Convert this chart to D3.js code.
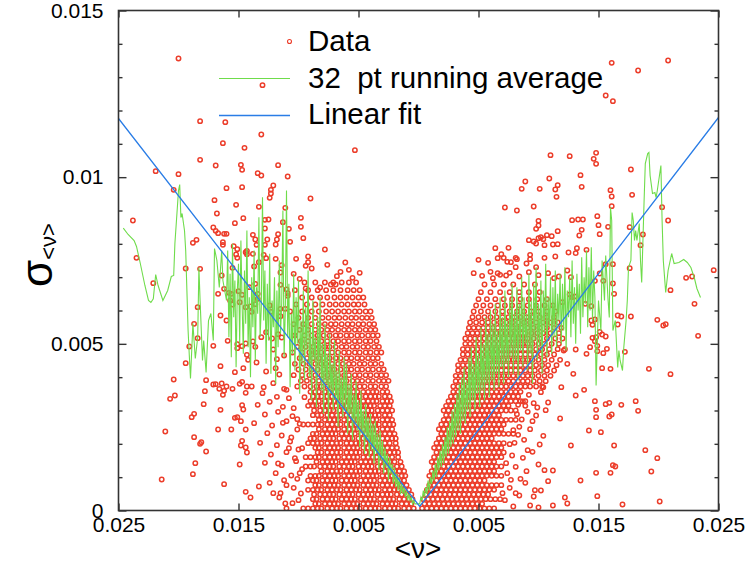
<!DOCTYPE html>
<html><head><meta charset="utf-8">
<script src="https://cdn.jsdelivr.net/npm/d3@7"></script>
<style>body{margin:0;background:#fff}</style>
</head><body>
<svg id="chart" width="746" height="569"></svg>
<script>
const xTickValues = [-0.025, -0.015, -0.005, 0.005, 0.015, 0.025];
const xTickLabels = ["0.025", "0.015", "0.005", "0.005", "0.015", "0.025"];
const yMajorTicks = [0, 0.005, 0.01, 0.015];
const yTickLabels = ["0", "0.005", "0.01", "0.015"];
const yMinorTicks = [0.001,0.002,0.003,0.004,0.006,0.007,0.008,0.009,0.011,0.012,0.013,0.014];
const legendLabels = ["Data", "32  pt running average", "Linear fit"];

// scatter: outer / sparse points (left branch)
const dataLeftSparse = [
[-.0200,.01356],[-.0182,.01168],[-.0161,.01165],[-.0163,.01102],[-.0145,.01088],[-.0219,.01018],[-.0200,.01009],[-.0182,.01052],[-.0169,.01035],[-.0148,.01037],[-.0147,.01022],[-.0204,.00962],[-.0160,.00967],[-.0147,.0097],[-.0170,.00931],[-.0152,.00917],[-.0168,.00891],[-.0238,.0087],[-.0146,.00877],[-.0153,.00862],[-.0171,.00849],[-.0169,.00839],[-.0167,.00832],[-.0162,.0083],[-.0160,.0083],[-.0185,.00812],[-.0188,.00803],[-.0163,.00805],[-.0163,.00797],[-.0154,.00793],[-.0151,.00784],[-.0144,.00775],[-.0235,.00758],[-.0152,.00768],[-.0151,.00758],[-.0194,.00726],[-.0182,.00725],[-.0155,.00728],[-.0221,.00682],[-.0164,.00705],[-.0162,.00665],[-.0167,.0065],[-.0158,.00653],[-.0156,.0065],[-.0150,.00658],[-.0147,.00647],[-.0184,.0061],[-.0157,.0063],[-.0155,.00618],[-.0149,.00625],[-.0144,.0061],[-.0165,.00585],[-.0160,.0057],[-.0187,.0056],[-.0184,.00517],[-.0191,.00492],[-.0171,.00494],[-.0159,.00509],[-.0151,.00487],[-.0194,.00442],[-.0165,.00433],[-.0153,.00415],[-.0146,.00427],[-.0204,.00393],[-.0177,.00391],[-.0169,.00379],[-.0164,.00381],[-.0149,.0038],[-.0147,.00386],[-.0178,.00358],[-.0162,.00359],[-.0163,.00347],[-.0144,.00353],[-.0203,.00345],[-.0207,.00335],[-.0179,.00319],[-.0147,.00316],[-.0146,.00303],[-.0165,.00302],[-.0187,.0029],[-.0189,.0028],[-.0151,.0028],[-.0153,.00278],[-.0148,.00268],[-.0211,.00237],[-.0167,.00243],[-.0156,.00243],[-.0144,.00243],[-.0187,.0022],[-.0181,.00205],[-.0182,.002],[-.0147,.00209],[-.0148,.00195],[-.0144,.00189],[-.0143,.00174],[-.0177,.00177],[-.0186,.00142],[-.0188,.00109],[-.0149,.00138],[-.0214,.00093],[-.0162,.00079],[-.0144,.00056],
[-.0130,.01276],[-.0131,.01128],[-.0053,.01081],[-.0117,.01036],[-.0134,.01012],[-.0131,.01005],[-.0109,.01002],[-.0121,.00975],[-.0123,.00962],[-.0123,.00951],[-.0124,.00938],[-.0090,.00936],[-.0133,.00911],[-.0111,.00908],[-.0125,.00873],[-.0098,.00878],
[-.0098,.00851],[-.0128,.00872],[-.0113,.00865],[-.0128,.00846],[-.0117,.00829],[-.0108,.00845],[-.0096,.00817],[-.0138,.00827],[-.0136,.00813],[-.0126,.00813],[-.0128,.00797],[-.0118,.00813],[-.0119,.00798],[-.0107,.00806],[-.0078,.00783],[-.0143,.00779],[-.0143,.00769],[-.0135,.00797],[-.0138,.0077],[-.0129,.00767],[-.0127,.00757],[-.0119,.00755],[-.0102,.00755],[-.0092,.00762],[-.0092,.00745],[-.0094,.00734],[-.0089,.00726],[-.0076,.00737],[-.0061,.00744],[-.0137,.00732],[-.0133,.00745],[-.0114,.00736],[-.0115,.00714],[-.0104,.0071],[-.0099,.00695],
[-.0141,.0067],[-.0136,.0068],[-.0115,.00677],[-.0110,.00663],[-.0109,.00652],[-.0109,.00644],[-.0094,.00666],[-.0082,.00669],[-.0073,.00678],[-.0069,.00678],[-.0068,.00703],[-.0134,.0065],[-.0134,.00635],[-.0136,.00619],[-.0139,.00596],[-.0140,.00612],[-.0124,.00615],[-.0123,.00596],[-.0115,.00605],[-.0111,.00605],[-.0115,.00583],[-.0065,.00716],[-.0058,.00722],[-.0049,.00713],[-.0055,.00698],
[-.0151,.00499],[-.0147,.00493],[-.0144,.00501],[-.0143,.00467],[-.0138,.00507],[-.0136,.00491],[-.0131,.0052],[-.0127,.00535],[-.0122,.00516],[-.0117,.00529],[-.0114,.00519],[-.0121,.00483],[-.0112,.00465],
[-.0142,.00452],[-.0135,.00444],[-.0127,.00417],[-.0119,.00427],[-.0118,.00454],[-.0116,.00408],
[-.0171,.00378],[-.0166,.00365],[-.0160,.00372],[-.0155,.00365],[-.0143,.00372],[-.0139,.00372],[-.0129,.0037],[-.0121,.00382],[-.0112,.00365],
[-.0130,.00352],[-.0118,.00341],[-.0110,.00362],[-.0134,.00317],[-.0124,.00326],[-.0113,.00311],[-.0128,.00288],[-.0117,.00296],[-.0105,.00283],[-.0137,.00262],[-.0122,.00255],[-.0110,.00268],[-.0126,.00232],[-.0114,.00225],[-.0132,.00203],[-.0118,.00196],[-.0107,.00207],[-.0123,.00168],[-.0110,.00175],[-.0128,.00143],[-.0114,.00136],[-.0119,.00112],[-.0106,.00105],[-.0124,.00083],[-.0110,.00076],[-.0115,.00052],[-.0105,.00022],
[-.0140,.00039],[-.0133,.00072],[-.0116,.00039],[-.0111,.00021],[-.0110,.00006],
[-.0100,.00031],[-.0104,.00068],[-.0099,.00112],[-.0103,.00157],[-.0100,.00183],[-.0106,.00219],[-.0101,.00274],[-.0104,.00307],[-.0108,.00337],[-.0097,.00124],[-.0101,.00243],[-.0112,.00091],[-.0117,.00141],[-.0121,.00052],[-.0113,.00263],[-.0108,.00187],
[-.0101,.00095],[-.0097,.00187],[-.0099,.0026],[-.0095,.0034],[-.0102,.00148],[-.0098,.00051]
];

// scatter: dense core of the left branch, read row by row (y, then x positions)
const leftCoreRows = [
[.00006,[-.0096,-.0092,-.0088,-.0084,-.0081,-.0076,-.0072,-.0068,-.0065,-.0060,-.0056,-.0052,-.0049,-.0044,-.0040,-.0036,-.0033,-.0028,-.0024,-.0020,-.0017,-.0012,-.0008,-.0004]],
[.0002,[-.0086,-.0083,-.0078,-.0074,-.0070,-.0067,-.0062,-.0058,-.0054,-.0051,-.0046,-.0042,-.0038,-.0035,-.0030,-.0026,-.0022,-.0019,-.0014,-.0010,-.0006]],
[.00034,[-.0088,-.0085,-.0080,-.0076,-.0072,-.0069,-.0064,-.0060,-.0056,-.0053,-.0048,-.0044,-.0040,-.0037,-.0032,-.0028,-.0024,-.0021,-.0016,-.0012,-.0008,-.0005]],
[.00048,[-.0087,-.0082,-.0078,-.0074,-.0071,-.0066,-.0062,-.0058,-.0055,-.0050,-.0046,-.0042,-.0039,-.0034,-.0030,-.0026,-.0023,-.0018,-.0014,-.0010,-.0006]],
[.00062,[-.0092,-.0088,-.0084,-.0081,-.0076,-.0072,-.0068,-.0065,-.0060,-.0056,-.0052,-.0049,-.0044,-.0040,-.0036,-.0033,-.0028,-.0024,-.0020,-.0017,-.0012,-.0008]],
[.00076,[-.0086,-.0083,-.0078,-.0074,-.0070,-.0067,-.0062,-.0058,-.0054,-.0051,-.0046,-.0042,-.0038,-.0035,-.0030,-.0026,-.0022,-.0019,-.0014,-.0010]],
[.0009,[-.0092,-.0088,-.0085,-.0080,-.0076,-.0072,-.0069,-.0064,-.0060,-.0056,-.0053,-.0048,-.0044,-.0040,-.0037,-.0032,-.0028,-.0024,-.0021,-.0016,-.0012]],
[.00104,[-.0090,-.0086,-.0083,-.0078,-.0074,-.0070,-.0067,-.0062,-.0058,-.0054,-.0051,-.0046,-.0042,-.0038,-.0035,-.0030,-.0026,-.0022,-.0019,-.0014,-.0011]],
[.00118,[-.0081,-.0076,-.0072,-.0068,-.0065,-.0060,-.0056,-.0052,-.0049,-.0044,-.0040,-.0036,-.0033,-.0028,-.0024,-.0020,-.0016,-.0012]],
[.00132,[-.0094,-.0090,-.0087,-.0082,-.0078,-.0074,-.0071,-.0066,-.0062,-.0058,-.0055,-.0050,-.0046,-.0042,-.0039,-.0034,-.0030,-.0026,-.0023,-.0018,-.0014]],
[.00146,[-.0085,-.0080,-.0076,-.0072,-.0069,-.0064,-.0060,-.0056,-.0053,-.0048,-.0044,-.0040,-.0037,-.0032,-.0028,-.0024,-.0020,-.0015]],
[.0016,[-.0094,-.0090,-.0086,-.0083,-.0078,-.0074,-.0070,-.0067,-.0062,-.0058,-.0054,-.0051,-.0046,-.0042,-.0038,-.0035,-.0030,-.0026,-.0022,-.0017]],
[.00174,[-.0084,-.0081,-.0076,-.0072,-.0068,-.0065,-.0060,-.0056,-.0052,-.0049,-.0044,-.0040,-.0036,-.0033,-.0028,-.0024,-.0020,-.0017]],
[.00188,[-.0086,-.0083,-.0078,-.0074,-.0070,-.0067,-.0062,-.0058,-.0054,-.0051,-.0046,-.0042,-.0038,-.0035,-.0030,-.0026,-.0022,-.0018]],
[.00202,[-.0092,-.0088,-.0084,-.0081,-.0076,-.0072,-.0068,-.0065,-.0060,-.0056,-.0052,-.0049,-.0044,-.0040,-.0036,-.0033,-.0028,-.0024,-.0019]],
[.00216,[-.0090,-.0087,-.0082,-.0078,-.0074,-.0071,-.0066,-.0062,-.0058,-.0055,-.0050,-.0046,-.0042,-.0039,-.0034,-.0030,-.0026,-.0022,-.0019]],
[.0023,[-.0088,-.0085,-.0080,-.0076,-.0072,-.0069,-.0064,-.0060,-.0056,-.0053,-.0048,-.0044,-.0040,-.0037,-.0032,-.0028,-.0024,-.0020]],
[.00244,[-.0083,-.0078,-.0074,-.0070,-.0067,-.0062,-.0058,-.0054,-.0051,-.0046,-.0042,-.0038,-.0035,-.0030,-.0026,-.0022]],
[.00258,[-.0096,-.0092,-.0088,-.0084,-.0081,-.0076,-.0072,-.0068,-.0065,-.0060,-.0056,-.0052,-.0049,-.0044,-.0040,-.0036,-.0033,-.0028,-.0024,-.0021]],
[.00272,[-.0083,-.0078,-.0074,-.0070,-.0067,-.0062,-.0058,-.0054,-.0051,-.0046,-.0042,-.0038,-.0035,-.0030,-.0026,-.0022]],
[.00286,[-.0088,-.0084,-.0081,-.0076,-.0072,-.0068,-.0065,-.0060,-.0056,-.0052,-.0049,-.0044,-.0040,-.0036,-.0033,-.0028,-.0024]],
[.003,[-.0087,-.0082,-.0078,-.0074,-.0071,-.0066,-.0062,-.0058,-.0055,-.0050,-.0046,-.0042,-.0039,-.0034,-.0030,-.0026,-.0022]],
[.00314,[-.0092,-.0088,-.0085,-.0080,-.0076,-.0072,-.0069,-.0064,-.0060,-.0056,-.0053,-.0048,-.0044,-.0040,-.0037,-.0032,-.0028,-.0024]],
[.00328,[-.0090,-.0086,-.0083,-.0078,-.0074,-.0070,-.0067,-.0062,-.0058,-.0054,-.0051,-.0046,-.0042,-.0038,-.0035,-.0030,-.0026,-.0023]],
[.00342,[-.0088,-.0084,-.0081,-.0076,-.0072,-.0068,-.0065,-.0060,-.0056,-.0052,-.0049,-.0044,-.0040,-.0036,-.0033,-.0028,-.0024]],
[.00356,[-.0090,-.0086,-.0083,-.0078,-.0074,-.0070,-.0067,-.0062,-.0058,-.0054,-.0051,-.0046,-.0042,-.0038,-.0035,-.0030,-.0026]],
[.00372,[-.0101,-.0095,-.0090,-.0085,-.0081,-.0076,-.0071,-.0067,-.0062,-.0058,-.0053,-.0049,-.0045,-.0040,-.0036,-.0031,-.0027]],
[.00389,[-.0098,-.0093,-.0088,-.0083,-.0078,-.0074,-.0069,-.0064,-.0060,-.0055,-.0051,-.0047,-.0042,-.0038,-.0033,-.0029,-.0025]],
[.00406,[-.0104,-.0097,-.0091,-.0086,-.0081,-.0076,-.0072,-.0067,-.0062,-.0058,-.0053,-.0049,-.0044,-.0040,-.0035,-.0031,-.0027]],
[.00423,[-.0100,-.0094,-.0089,-.0084,-.0079,-.0074,-.0070,-.0065,-.0060,-.0056,-.0051,-.0047,-.0042,-.0038,-.0033,-.0029]],
[.0044,[-.0103,-.0096,-.0091,-.0086,-.0081,-.0077,-.0072,-.0067,-.0063,-.0058,-.0054,-.0049,-.0045,-.0040,-.0036,-.0031]],
[.00457,[-.0099,-.0093,-.0088,-.0083,-.0079,-.0074,-.0069,-.0065,-.0060,-.0056,-.0051,-.0047,-.0042,-.0038,-.0034]],
[.00474,[-.0105,-.0097,-.0091,-.0086,-.0081,-.0076,-.0072,-.0067,-.0062,-.0058,-.0053,-.0049,-.0044,-.0040,-.0035,-.0031]],
[.00491,[-.0101,-.0094,-.0088,-.0083,-.0078,-.0074,-.0069,-.0064,-.0060,-.0055,-.0051,-.0046,-.0042,-.0037,-.0033]],
[.00508,[-.0098,-.0092,-.0086,-.0081,-.0076,-.0071,-.0067,-.0062,-.0058,-.0053,-.0049,-.0044,-.0040,-.0035]],
[.00525,[-.0103,-.0095,-.0089,-.0084,-.0079,-.0074,-.0069,-.0065,-.0060,-.0056,-.0051,-.0047,-.0042,-.0038,-.0034]],
[.00542,[-.0099,-.0092,-.0086,-.0081,-.0076,-.0072,-.0067,-.0062,-.0058,-.0053,-.0049,-.0044,-.0040,-.0036]],
[.00559,[-.0104,-.0096,-.0089,-.0083,-.0078,-.0073,-.0069,-.0064,-.0059,-.0055,-.0050,-.0046,-.0041,-.0037]],
[.00578,[-.0100,-.0092,-.0086,-.0080,-.0075,-.0070,-.0066,-.0061,-.0056,-.0052,-.0047,-.0043,-.0039]],
[.00597,[-.0107,-.0097,-.0089,-.0083,-.0077,-.0072,-.0067,-.0062,-.0058,-.0053,-.0049,-.0044,-.0040]],
[.00618,[-.0102,-.0093,-.0086,-.0080,-.0074,-.0069,-.0064,-.0059,-.0054,-.0050,-.0045]],
[.00639,[-.0097,-.0089,-.0082,-.0076,-.0070,-.0065,-.0060,-.0055,-.0050,-.0046]],
[.00661,[-.0103,-.0092,-.0084,-.0077,-.0071,-.0065,-.0059,-.0054,-.0049]],
[.00684,[-.0095,-.0086,-.0078,-.0071,-.0064,-.0058,-.0052]]
];

// scatter: outer / sparse points (right branch)
const dataRightSparse = [
[.0161,.01343],[.0208,.0135],[.0183,.0132],[.0156,.01245],[.0162,.01228],[.0148,.01073],[.0146,.01055],[.0148,.0104],[.0177,.01023],[.0160,.00961],[.0161,.00942],[.0178,.00947],[.0161,.00913],[.0203,.0091],[.0208,.0087],[.0149,.00883],[.0150,.00856],[.0158,.00851],[.0176,.0085],[.0151,.00829],[.0187,.00828],[.0185,.00796],[.0156,.00739],[.0162,.00739],[.0151,.00711],[.0176,.00727],[.0147,.00689],[.0154,.00689],[.0162,.00681],[.0163,.0065],[.0246,.00721],[.0223,.00698],[.0228,.00702],[.0210,.00661],[.0230,.0062],[.0144,.00613],[.0147,.00573],[.0166,.00585],[.0169,.00582],[.0177,.00582],[.0166,.00558],[.0199,.00572],[.0204,.00555],[.0206,.00559],[.0233,.00524],[.0145,.00518],[.0148,.0052],[.0147,.00508],[.0143,.0049],[.0149,.00494],[.0151,.00536],[.0156,.00522],[.0157,.00485],[.0154,.00472],[.0149,.00478],[.0172,.00476],[.0153,.00427],[.0160,.00425],[.0192,.00425],[.0210,.00409],[.0147,.00328],[.0156,.00319],[.0159,.00323],[.0169,.00317],[.0181,.00328],[.0148,.00302],[.0183,.00299],[.0148,.0028],[.0159,.00282],[.0161,.00288],[.0152,.00235],[.0163,.00195],[.0189,.00181],[.0199,.00157],[.0148,.00113],[.0160,.00113],[.0162,.00136],[.0164,.00132],[.0194,.00117],[.0149,.00043],[.0170,.00018],[.0201,.00027],
[.0110,.01066],[.0126,.01063],[.0089,.00987],[.0109,.00996],[.0116,.00976],[.0114,.00963],[.0086,.00965],[.0101,.00965],[.0135,.01006],[.0136,.00971],[.0115,.00941],[.0072,.00909],[.0082,.009],[.0096,.00912],[.0100,.00869],[.0098,.00845],[.0100,.00855],[.0128,.00871],[.0133,.00873],[.0137,.00873],[.0116,.00838],[.0136,.00842],[.0134,.00825],[.0092,.00811],[.0096,.00807],[.0098,.00801],[.0100,.00817],[.0102,.0082],[.0104,.00814],[.0107,.00826],[.0111,.00823],[.0064,.00787],[.0075,.00788],[.0105,.00796],[.0112,.00798],[.0116,.00799],[.0069,.00769],[.0071,.00758],[.0081,.00758],[.0093,.00767],[.0125,.00774],[.0131,.00772],[.0132,.00787],[.0140,.00782],
[.0077,.00745],[.0081,.0073],[.0066,.00712],[.0062,.00697],[.0073,.00705],[.0105,.00758],[.0114,.00762],[.0093,.00754],[.0098,.0073],[.0108,.00712],[.0113,.00697],[.0117,.00702],[.0124,.0072],[.0127,.007],[.0126,.00648],[.0128,.0064],[.0130,.00642],[.0120,.00625],[.0139,.0062],[.0144,.0057],[.0145,.00557],[.0153,.00528],[.0131,.00483],[.0140,.0047],[.0121,.0048],[.0129,.0041],[.0124,.0044],[.0119,.0037],[.0138,.00362],[.0104,.0037],
[.0050,.00752],[.0058,.00743],[.0066,.00757],[.0074,.00746],[.0082,.00754],[.0090,.00741],[.0046,.00712],[.0053,.00704],[.0060,.00716],[.0068,.00707],[.0076,.00713],[.0084,.00702],[.0092,.00715],[.0100,.00706],
[.0108,.00324],[.0118,.00276],[.0127,.00195],[.0112,.0012],[.0135,.0009],[.0122,.00039],[.0102,.0006],[.0093,.00015],[.0142,.0024],[.0131,.00345],[.0112,.00015],[.0124,.00021],[.0100,.00009],
[.0092,.00347],[.0102,.00355],[.0089,.00314],[.0099,.00309],[.0086,.00273],[.0083,.00227],[.0095,.00268],[.0104,.00224],[.0091,.00181],[.0100,.00138],[.0085,.00095],[.0081,.00052],[.0108,.00088],[.0096,.00042],
[.0072,.00031],[.0079,.00012],[.0076,.00068],[.0084,.00045],[.0089,.00083],[.0074,.00112],[.0081,.00131],[.0090,.00118],[.0078,.00165],[.0087,.00158],[.0095,.00176],[.0080,.00203],[.0088,.00212],[.0084,.00251],[.0093,.00244],[.0082,.00289],[.0091,.00296],[.0098,.00285],[.0087,.00327],[.0096,.00322],[.0106,.00301],[.0070,.00052],[.0077,.00092],[.0073,.00142],[.0076,.00199],[.0079,.00241],[.0083,.00317],[.0101,.00198],[.0105,.00121],[.0097,.00061]
];

// scatter: dense core of the right branch, read row by row (y, then x positions)
const rightCoreRows = [
[.00006,[.0003,.0007,.0011,.0015,.0019,.0023,.0027,.0031,.0035,.0039,.0043,.0047,.0051,.0055,.0059,.0063]],
[.0002,[.0005,.0009,.0013,.0017,.0021,.0025,.0029,.0033,.0037,.0041,.0045,.0049,.0053]],
[.00034,[.0004,.0008,.0012,.0016,.0020,.0024,.0028,.0032,.0036,.0040,.0044,.0048,.0052,.0056,.0060,.0064,.0068]],
[.00048,[.0006,.0010,.0014,.0018,.0022,.0026,.0030,.0034,.0038,.0042,.0046,.0050,.0054,.0058]],
[.00062,[.0007,.0011,.0015,.0019,.0023,.0027,.0031,.0035,.0039,.0043,.0047,.0051,.0055,.0059,.0063]],
[.00076,[.0009,.0013,.0017,.0021,.0025,.0029,.0033,.0037,.0041,.0045,.0049,.0053,.0057,.0061,.0065,.0069]],
[.0009,[.0011,.0015,.0019,.0023,.0027,.0031,.0035,.0039,.0043,.0047,.0051,.0055]],
[.00104,[.0009,.0013,.0017,.0021,.0025,.0029,.0033,.0037,.0041,.0045,.0049,.0053,.0057,.0061,.0065,.0069]],
[.00118,[.0011,.0015,.0019,.0023,.0027,.0031,.0035,.0039,.0043,.0047,.0051,.0055,.0059,.0063]],
[.00132,[.0013,.0017,.0021,.0025,.0029,.0033,.0037,.0041,.0045,.0049,.0053,.0057,.0061,.0065,.0069]],
[.00146,[.0011,.0015,.0019,.0023,.0027,.0031,.0035,.0039,.0043,.0047,.0051,.0055,.0059,.0063]],
[.0016,[.0013,.0017,.0021,.0025,.0029,.0033,.0037,.0041,.0045,.0049,.0053,.0057,.0061,.0065,.0069]],
[.00174,[.0015,.0019,.0023,.0027,.0031,.0035,.0039,.0043,.0047,.0051,.0055,.0059,.0063,.0067,.0071]],
[.00188,[.0013,.0017,.0021,.0025,.0029,.0033,.0037,.0041,.0045,.0049,.0053,.0057,.0061,.0065,.0069]],
[.00202,[.0015,.0019,.0023,.0027,.0031,.0035,.0039,.0043,.0047,.0051,.0055,.0059,.0063,.0067,.0071]],
[.00216,[.0017,.0021,.0025,.0029,.0033,.0037,.0041,.0045,.0049,.0053,.0057,.0061]],
[.0023,[.0019,.0023,.0027,.0031,.0035,.0039,.0043,.0047,.0051,.0055,.0059,.0063,.0067,.0071,.0075,.0079]],
[.00244,[.0017,.0021,.0025,.0029,.0033,.0037,.0041,.0045,.0049,.0053,.0057,.0061,.0065,.0069]],
[.00258,[.0019,.0023,.0027,.0031,.0035,.0039,.0043,.0047,.0051,.0055,.0059,.0063,.0067,.0071]],
[.00272,[.0021,.0025,.0029,.0033,.0037,.0041,.0045,.0049,.0053,.0057,.0061,.0065,.0069,.0073,.0077,.0081]],
[.00286,[.0023,.0027,.0031,.0035,.0039,.0043,.0047,.0051,.0055,.0059,.0063,.0067]],
[.003,[.0021,.0025,.0029,.0033,.0037,.0041,.0045,.0049,.0053,.0057,.0061,.0065,.0069,.0073,.0077,.0081]],
[.00314,[.0023,.0027,.0031,.0035,.0039,.0043,.0047,.0051,.0055,.0059,.0063,.0067,.0071,.0075]],
[.00328,[.0025,.0029,.0033,.0037,.0041,.0045,.0049,.0053,.0057,.0061,.0065,.0069,.0073,.0077,.0081,.0085,.0089]],
[.00342,[.0027,.0031,.0035,.0039,.0043,.0047,.0051,.0055,.0059,.0063,.0067,.0071,.0075,.0079,.0083]],
[.00356,[.0029,.0033,.0037,.0041,.0045,.0049,.0053,.0057,.0061,.0065,.0069,.0073,.0077,.0081,.0085]],
[.00372,[.0029,.0033,.0037,.0041,.0045,.0049,.0053,.0057,.0061,.0065,.0069,.0073,.0077,.0081,.0085,.0089,.0093,.0098,.0103]],
[.00388,[.0031,.0035,.0039,.0043,.0047,.0051,.0055,.0059,.0063,.0067,.0071,.0075,.0079,.0083,.0087,.0091,.0096,.0101,.0106]],
[.00404,[.0031,.0035,.0039,.0043,.0047,.0051,.0055,.0059,.0063,.0067,.0071,.0075,.0079,.0083,.0087,.0091,.0095,.0100,.0105,.0110]],
[.0042,[.0033,.0037,.0041,.0045,.0049,.0053,.0057,.0061,.0065,.0069,.0073,.0077,.0081,.0085,.0089,.0093,.0097,.0102,.0107,.0113]],
[.00436,[.0033,.0037,.0041,.0045,.0049,.0053,.0057,.0061,.0065,.0069,.0073,.0077,.0081,.0085,.0089,.0093,.0098,.0103,.0108,.0115]],
[.00452,[.0035,.0039,.0043,.0047,.0051,.0055,.0059,.0063,.0067,.0071,.0075,.0079,.0083,.0087,.0091,.0095,.0100,.0105,.0111,.0118]],
[.00468,[.0037,.0041,.0045,.0049,.0053,.0057,.0061,.0065,.0069,.0073,.0077,.0081,.0085,.0089,.0093,.0097,.0102,.0107,.0113]],
[.00484,[.0037,.0041,.0045,.0049,.0053,.0057,.0061,.0065,.0069,.0073,.0077,.0081,.0085,.0089,.0093,.0098,.0103,.0109,.0116,.0122]],
[.005,[.0039,.0043,.0047,.0051,.0055,.0059,.0063,.0067,.0071,.0075,.0079,.0083,.0087,.0091,.0095,.0100,.0105,.0111,.0117]],
[.00516,[.0039,.0043,.0047,.0051,.0055,.0059,.0063,.0067,.0071,.0075,.0079,.0083,.0087,.0091,.0096,.0101,.0107,.0114,.0120]],
[.00532,[.0041,.0045,.0049,.0053,.0057,.0061,.0065,.0069,.0073,.0077,.0081,.0085,.0089,.0094,.0099,.0104,.0110,.0117]],
[.00548,[.0042,.0046,.0050,.0054,.0058,.0062,.0066,.0070,.0074,.0078,.0082,.0086,.0091,.0096,.0101,.0107,.0113,.0119]],
[.00564,[.0043,.0048,.0053,.0058,.0063,.0068,.0073,.0078,.0083,.0088,.0093,.0098,.0104,.0110,.0116]],
[.0058,[.0045,.0050,.0055,.0060,.0065,.0070,.0075,.0080,.0085,.0090,.0095,.0101,.0107,.0113]],
[.00597,[.0046,.0052,.0058,.0064,.0070,.0076,.0082,.0088,.0094,.0100,.0107,.0114]],
[.00615,[.0048,.0054,.0060,.0066,.0072,.0078,.0084,.0091,.0098,.0105,.0112]],
[.00634,[.0050,.0057,.0064,.0071,.0078,.0085,.0092,.0099,.0107]],
[.00655,[.0052,.0060,.0068,.0076,.0084,.0092,.0101]],
[.00678,[.0055,.0063,.0071,.0079,.0088,.0097]]
];

// 32 pt running average
const avgLeft = [
[-.0246,.00847],[-.0242,.00828],[-.0237,.0081],[-.0235,.00792],[-.0232,.00744],[-.0228,.00675],[-.0225,.0063],[-.0223,.00624],[-.0221,.00635],[-.0219,.00708],[-.0217,.00675],[-.0213,.0063],[-.0209,.0066],[-.0206,.00702],[-.0204,.00705],[-.0203,.00801],[-.0200,.0096],[-.0199,.00978],[-.0198,.00879],[-.0197,.00891],[-.0195,.0084],[-.0194,.0078],[-.0193,.0066],[-.0192,.0054],[-.0191,.00465],[-.0190,.00396],[-.0188,.00561],[-.0186,.00456],[-.0184,.00519],[-.0183,.00729],[-.0182,.0063],[-.0180,.0045],[-.0179,.0051],[-.0177,.00414],[-.0175,.0057],[-.0173,.00591],[-.0171,.0051],[-.0170,.00786],[-.0168,.0075],[-.0166,.00669],[-.0164,.0078],[-.0163,.0069],
[-.0160,.0063],[-.0159,.0078],[-.0158,.0052],[-.0157,.0071],[-.0156,.0046],[-.0155,.0080],[-.0154,.0058],[-.0153,.0069],[-.0152,.0043],[-.0151,.0066],
[-.0150,.0074],[-.0149,.0050],[-.0148,.0081],[-.0147,.0062],[-.0146,.0047],[-.0145,.0072],[-.0144,.0056],[-.0143,.0084],[-.0142,.0049],[-.0141,.0064],
[-.0140,.0040],[-.0139,.0070],[-.0138,.0055],[-.0137,.0078],[-.0136,.0045],[-.0135,.0067],[-.0134,.0059],[-.0133,.0088],[-.0132,.0052],[-.0131,.0061],
[-.0130,.0094],[-.0129,.0057],[-.0128,.0072],[-.0127,.0044],[-.0126,.0068],[-.0125,.0051],[-.0124,.0077],[-.0123,.0041],[-.0122,.0063],[-.0121,.0055],
[-.0120,.0070],[-.0119,.0038],[-.0118,.0066],[-.0117,.0049],[-.0116,.0075],[-.0115,.0053],[-.0114,.0062],[-.0113,.0090],[-.0112,.0046],[-.0111,.0060],
[-.0110,.0096],[-.0109,.0052],[-.0108,.0068],[-.0107,.0037],[-.0106,.0059],[-.0105,.0047],[-.0104,.0071],[-.0103,.0042],[-.0102,.0064],[-.0101,.0050],
[-.0100,.0069],[-.0099,.0035],[-.0098,.0057],[-.0097,.0044],[-.0096,.0066],[-.0095,.0039],[-.0094,.0061],[-.0093,.0048],[-.0092,.0072],[-.0091,.0040],
[-.0090,.0055],[-.0089,.0033],[-.0088,.0063],[-.0087,.0045],[-.0086,.0052],[-.0085,.0031],[-.0084,.0058],[-.0083,.0041],[-.0082,.0064],[-.0081,.0036],
[-.0080,.0050],[-.0079,.0029],[-.0078,.0056],[-.0077,.0038],[-.0076,.0047],[-.0075,.0027],[-.0074,.0053],[-.0073,.0035],[-.0072,.0044],[-.0071,.0030],
[-.0070,.0051],[-.0069,.0033],[-.0068,.0042],[-.0067,.0025],[-.0066,.0048],[-.0065,.0031],[-.0064,.0040],[-.0063,.0028],[-.0062,.0046],[-.0061,.0030],
[-.0060,.0044],[-.0059,.0023],[-.0058,.0038],[-.0057,.0029],[-.0056,.0041],[-.0055,.0021],[-.0054,.0035],[-.0053,.0026],[-.0052,.0039],[-.0051,.0024],
[-.0050,.0033],[-.0049,.0019],[-.0048,.0036],[-.0047,.0023],[-.0046,.0030],[-.0045,.0017],[-.0044,.0032],[-.0043,.0021],[-.0042,.0028],[-.0041,.0016],
[-.0040,.0029],[-.0039,.0018],[-.0038,.0026],[-.0037,.0014],[-.0036,.0027],[-.0035,.0017],[-.0034,.0023],[-.0033,.0012],[-.0032,.0024],[-.0031,.0015],
[-.0030,.0021],[-.0029,.0011],[-.0028,.0019],[-.0027,.0013],[-.0026,.0017],[-.0025,.0009],[-.0024,.0016],[-.0023,.0011],[-.0022,.0014],[-.0021,.0008],
[-.0020,.0013],[-.0019,.0007],[-.0018,.0011],[-.0017,.0006],[-.0016,.0010],[-.0015,.0005],[-.0014,.0008],[-.0013,.0005],[-.0012,.0007],[-.0011,.0004],
[-.0010,.0006],[-.0009,.0003],[-.0008,.0005],[-.0007,.0003],[-.0006,.0004],[-.0005,.0002],[-.0004,.0003],[-.0003,.0002],[-.0002,.0002],[-.0001,.0002]
];
const avgRight = [
[.0001,.0002],[.0002,.0004],[.0003,.0003],[.0004,.0006],[.0005,.0004],[.0006,.0007],[.0007,.0005],[.0008,.0009],[.0009,.0006],[.0010,.0010],
[.0011,.0008],[.0012,.0012],[.0013,.0009],[.0014,.0014],[.0015,.0010],[.0016,.0016],[.0017,.0012],[.0018,.0018],[.0019,.0013],[.0020,.0020],
[.0021,.0014],[.0022,.0022],[.0023,.0016],[.0024,.0025],[.0025,.0017],[.0026,.0027],[.0027,.0019],[.0028,.0030],[.0029,.0020],[.0030,.0032],
[.0031,.0022],[.0032,.0035],[.0033,.0024],[.0034,.0038],[.0035,.0023],[.0036,.0040],[.0037,.0027],[.0038,.0043],[.0039,.0026],[.0040,.0039],
[.0041,.0030],[.0042,.0046],[.0043,.0028],[.0044,.0049],[.0045,.0033],[.0046,.0044],[.0047,.0030],[.0048,.0052],[.0049,.0035],[.0050,.0047],
[.0051,.0031],[.0052,.0055],[.0053,.0036],[.0054,.0050],[.0055,.0033],[.0056,.0058],[.0057,.0038],[.0058,.0053],[.0059,.0034],[.0060,.0060],
[.0061,.0039],[.0062,.0056],[.0063,.0036],[.0064,.0062],[.0065,.0041],[.0066,.0054],[.0067,.0037],[.0068,.0064],[.0069,.0043],[.0070,.0058],
[.0071,.0038],[.0072,.0066],[.0073,.0044],[.0074,.0057],[.0075,.0040],[.0076,.0063],[.0077,.0046],[.0078,.0068],[.0079,.0041],[.0080,.0060],
[.0081,.0045],[.0082,.0067],[.0083,.0039],[.0084,.0062],[.0085,.0048],[.0086,.0070],[.0087,.0043],[.0088,.0064],[.0089,.0050],[.0090,.0059],
[.0091,.0042],[.0092,.0071],[.0093,.0047],[.0094,.0063],[.0095,.0038],[.0096,.0068],[.0097,.0051],[.0098,.0073],[.0099,.0045],[.0100,.0062],
[.0101,.0049],[.0102,.0069],[.0103,.0041],[.0104,.0066],[.0105,.0053],[.0106,.0074],[.0107,.0046],[.0108,.0064],[.0109,.0055],[.0110,.0070],
[.0111,.0047],[.0112,.0067],[.0113,.0052],[.0114,.0072],[.0115,.0049],[.0116,.0065],[.0117,.0057],[.0118,.0071],[.0119,.0050],[.0120,.0068],
[.0121,.0054],[.0122,.0073],[.0123,.0048],[.0124,.0066],[.0125,.0058],[.0126,.0070],[.0127,.0052],[.0128,.0075],[.0129,.0056],[.0130,.0067],
[.0131,.0050],[.0132,.0071],[.0133,.0060],[.0134,.0068],[.0135,.0053],[.0136,.0076],[.0137,.0058],[.0138,.0070],[.0139,.0062],[.0140,.0078],
[.0141,.0055],[.0142,.0073],[.0143,.0060],[.0144,.0079],[.0145,.0057],[.0146,.0072],[.0147,.0064],
[.0148,.00375],[.0150,.0063],[.0152,.0054],[.0153,.0075],[.0155,.0063],[.0156,.00765],[.0158,.0063],[.0159,.00579],[.0160,.00909],[.0161,.0087],[.0162,.0054],[.0164,.0057],[.0166,.00429],[.0167,.0048],[.0168,.0045],[.0170,.0042],[.0171,.00486],[.0173,.0057],[.0174,.0063],[.0175,.00729],[.0177,.0075],[.0178,.00894],[.0179,.0087],[.0180,.0081],[.0181,.0084],[.0182,.0081],[.0184,.00861],[.0185,.0075],[.0186,.00684],[.0188,.0093],[.0189,.01041],[.0191,.01071],[.0192,.01074],[.0193,.01005],[.0195,.00951],[.0197,.00954],[.0198,.00939],[.0199,.0096],[.0202,.01035],[.0203,.0087],[.0204,.0075],[.0206,.00654],[.0208,.0072],[.0211,.00771],[.0213,.00741],[.0217,.00744],[.0221,.00753],[.0224,.00744],[.0227,.00729],[.0230,.00696],[.0232,.00666],[.0235,.00639]
];

// linear fit (V shaped)
const fitX = [-0.025, 0.0001, 0.025];
const fitY = [0.01176, 0.00012, 0.01179];

const RED = "#ec3d2a", GREEN = "#6fdc4b", BLUE = "#2a7de6", AXIS = "#333";
const FONT = "'Liberation Sans', Arial, Helvetica, sans-serif";

const svg = d3.select("#chart");
svg.append("rect").attr("width", 746).attr("height", 569).attr("fill", "#fff");
const L = 118.5, R = 718.5, T = 10.5, B = 510.5;
const x = d3.scaleLinear().domain([-0.025, 0.025]).range([L, R]);
const y = d3.scaleLinear().domain([0, 0.015]).range([B, T]);

svg.append("defs").append("clipPath").attr("id", "clip")
  .append("rect").attr("x", L).attr("y", T).attr("width", R - L).attr("height", B - T);

const rowsToPoints = rows => rows.flatMap(([yy, xs]) => xs.map(xx => [xx, yy]));
const allPoints = dataLeftSparse.concat(rowsToPoints(leftCoreRows), dataRightSparse, rowsToPoints(rightCoreRows));

const plot = svg.append("g").attr("clip-path", "url(#clip)");
plot.append("g").selectAll("circle").data(allPoints).join("circle")
  .attr("cx", d => x(d[0])).attr("cy", d => y(d[1])).attr("r", 2.2)
  .attr("fill", "none").attr("stroke", RED).attr("stroke-width", 1.5);

const line = d3.line().x(d => x(d[0])).y(d => y(d[1]));
plot.append("path").datum(avgLeft.concat(avgRight)).attr("d", line)
  .attr("fill", "none").attr("stroke", GREEN).attr("stroke-width", 1.1);
plot.append("path").datum(d3.zip(fitX, fitY)).attr("d", line)
  .attr("fill", "none").attr("stroke", BLUE).attr("stroke-width", 1.3);

function styleAxis(g) {
  g.select(".domain").remove();
  g.selectAll("line").attr("stroke", AXIS).attr("stroke-width", 1.4);
  g.selectAll("text").attr("font-family", FONT).attr("font-size", 21).attr("fill", "#000");
}
svg.append("g").attr("transform", `translate(0,${B})`)
  .call(d3.axisBottom(x).tickValues(xTickValues).tickFormat((d, i) => xTickLabels[i]).tickSize(-7).tickSizeOuter(0).tickPadding(7))
  .call(styleAxis);
svg.append("g").attr("transform", `translate(0,${T})`)
  .call(d3.axisTop(x).tickValues(xTickValues).tickFormat("").tickSize(-7).tickSizeOuter(0))
  .call(styleAxis);
svg.append("g").attr("transform", `translate(${L},0)`)
  .call(d3.axisLeft(y).tickValues(yMajorTicks).tickFormat((d, i) => yTickLabels[i]).tickSize(-8).tickSizeOuter(0).tickPadding(15))
  .call(styleAxis);
svg.append("g").attr("transform", `translate(${L},0)`)
  .call(d3.axisLeft(y).tickValues(yMinorTicks).tickFormat("").tickSize(-4).tickSizeOuter(0))
  .call(styleAxis);
svg.append("g").attr("transform", `translate(${R},0)`)
  .call(d3.axisRight(y).tickValues(yMajorTicks).tickFormat("").tickSize(-8).tickSizeOuter(0))
  .call(styleAxis);
svg.append("g").attr("transform", `translate(${R},0)`)
  .call(d3.axisRight(y).tickValues(yMinorTicks).tickFormat("").tickSize(-4).tickSizeOuter(0))
  .call(styleAxis);

svg.append("rect").attr("x", L).attr("y", T).attr("width", R - L).attr("height", B - T)
  .attr("fill", "none").attr("stroke", AXIS).attr("stroke-width", 1.6);

// legend
const lg = svg.append("g").attr("font-family", FONT).attr("font-size", 29.5).attr("fill", "#000");
legendLabels.forEach((t, i) => {
  lg.append("text").attr("x", 308).attr("y", 51 + i * 36.5)
    .attr("xml:space", "preserve").style("white-space", "pre").text(t);
});
lg.append("circle").attr("cx", 289.5).attr("cy", 41.5).attr("r", 2)
  .attr("fill", "none").attr("stroke", RED).attr("stroke-width", 1.1);
lg.append("line").attr("x1", 219).attr("x2", 290).attr("y1", 78.5).attr("y2", 78.5)
  .attr("stroke", GREEN).attr("stroke-width", 1.2);
lg.append("line").attr("x1", 219).attr("x2", 290).attr("y1", 115.5).attr("y2", 115.5)
  .attr("stroke", BLUE).attr("stroke-width", 1.3);

// axis titles
svg.append("text").attr("x", 418).attr("y", 558).attr("text-anchor", "middle")
  .attr("font-family", FONT).attr("font-size", 28).text("<ν>");
const yt = svg.append("text").attr("transform", "translate(52,287) rotate(-90)")
  .attr("font-family", FONT);
yt.append("tspan").attr("font-size", 44).text("σ");
yt.append("tspan").attr("font-size", 22).attr("dy", 4).text("<ν>");
</script>
</body></html>
